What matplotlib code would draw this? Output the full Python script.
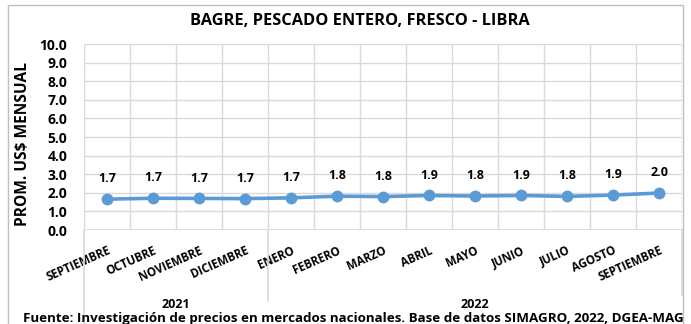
import matplotlib.pyplot as plt
import matplotlib.transforms as mtransforms
import numpy as np

# monthly average price, US$ per pound
months = ["SEPTIEMBRE", "OCTUBRE", "NOVIEMBRE", "DICIEMBRE", "ENERO", "FEBRERO",
          "MARZO", "ABRIL", "MAYO", "JUNIO", "JULIO", "AGOSTO", "SEPTIEMBRE"]
prices = [1.66, 1.71, 1.70, 1.69, 1.73, 1.82, 1.80, 1.86, 1.83, 1.86, 1.81, 1.88, 1.99]
years = ["2021", "2022"]
year_spans = [(0, 4), (4, 13)]

plt.rcParams['font.family'] = ['Open Sans', 'DejaVu Sans']
plt.rcParams['font.weight'] = 'bold'

blue = '#5B9BD5'
grid = '#D9D9D9'

fig = plt.figure(figsize=(6.91, 3.24), dpi=100)
ax = fig.add_axes([0.1216, 0.290, 0.8654, 0.574])

x = np.arange(len(months))
ax.plot(x, prices, color=blue, lw=2.6, marker='o', ms=7.5, zorder=3)
for xi, v in zip(x, prices):
    ax.annotate(f"{v:.1f}", (xi, v), xytext=(0, 10), textcoords='offset points',
                ha='center', va='bottom', fontsize=9, fontweight='bold')

ax.set_xlim(-0.5, len(months) - 0.5)
ax.set_ylim(0, 10)
ax.set_yticks(np.arange(0, 10.1, 1.0))
ax.set_yticklabels([f"{t:.1f}" for t in np.arange(0, 10.1, 1.0)], fontsize=10, fontweight='bold')
ax.set_xticks(x)
ax.set_xticklabels(months, rotation=24, ha='right', rotation_mode='anchor',
                   fontsize=8.3, fontweight='bold')
ax.set_xticks(np.arange(-0.5, len(months), 1.0), minor=True)
ax.tick_params(axis='both', which='both', length=0)
ax.tick_params(axis='x', pad=10)
ax.tick_params(axis='y', pad=12)
ax.grid(True, axis='y', color=grid, lw=1)
ax.grid(True, axis='x', which='minor', color=grid, lw=1)
ax.grid(False, axis='x', which='major')
for s in ax.spines.values():
    s.set_visible(False)
ax.axhline(0, color=grid, lw=1.2)

fig.text(0.033, 0.555, "PROM. US$ MENSUAL", rotation=90, ha='center', va='center',
         fontsize=11.2, fontweight='bold')
fig.text(0.521, 0.935, "BAGRE, PESCADO ENTERO, FRESCO - LIBRA", ha='center', va='center',
         fontsize=11.8, fontweight='bold')

# year group separators and labels below the month labels
tr = mtransforms.blended_transform_factory(ax.transData, ax.transAxes)
for (a, b), yr in zip(year_spans, years):
    ax.text((a + b - 1) / 2, -0.40, yr, transform=tr, ha='center', va='center',
            fontsize=9, fontweight='bold')
for xb, bottom in [(-0.5, -0.55), (3.5, -0.38), (12.5, -0.35)]:
    ax.plot([xb, xb], [0, bottom], transform=tr, color=grid, lw=1.2, clip_on=False)

fig.text(0.511, 0.018, "Fuente: Investigación de precios en mercados nacionales. Base de datos SIMAGRO, 2022, DGEA-MAG",
         ha='center', va='center', fontsize=9.6, fontweight='bold')

# chart frame
fig.patches.append(plt.Rectangle((0.012, -0.05), 0.976, 1.035, transform=fig.transFigure,
                                 fill=False, edgecolor='#BFBFBF', lw=1))

fig.savefig("out.png", dpi=100)
